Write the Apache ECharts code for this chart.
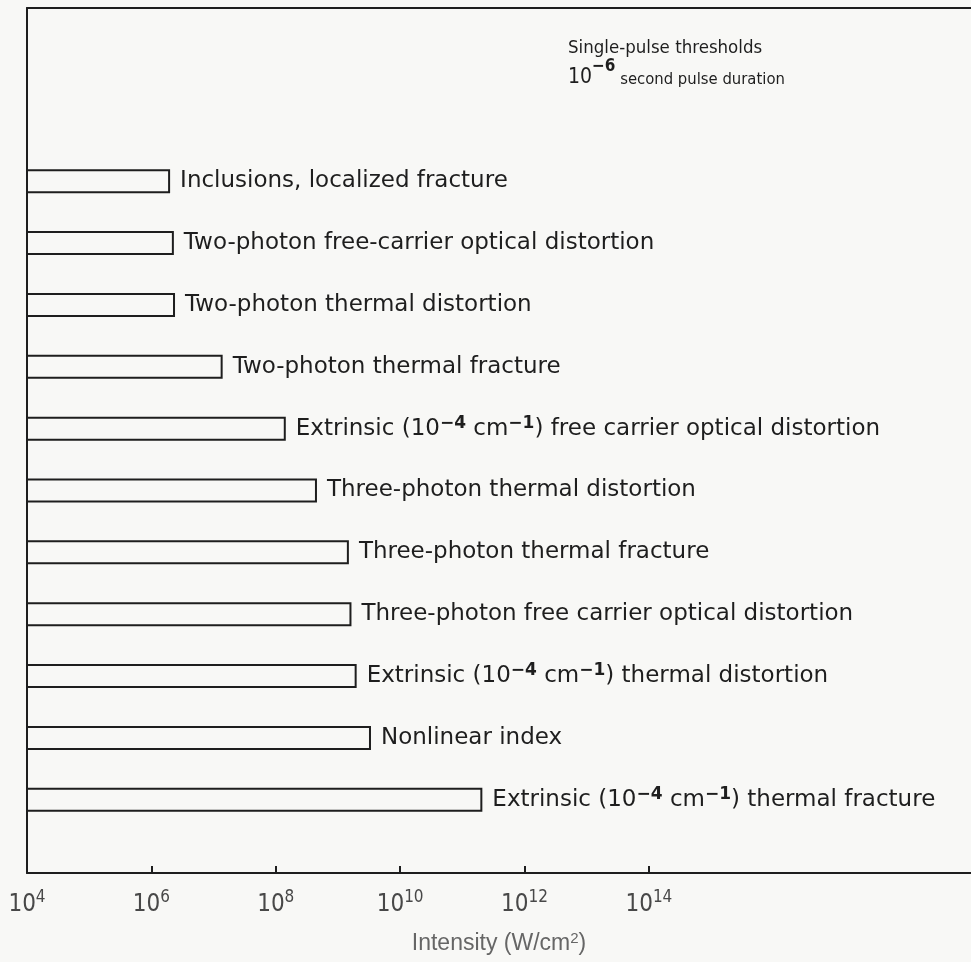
<!DOCTYPE html>
<html>
<head>
<meta charset="utf-8">
<script src="https://cdn.jsdelivr.net/npm/echarts@6/dist/echarts.min.js"></script>
<style>
  html, body { margin: 0; padding: 0; background: #f8f8f6; }
  #chart { width: 971px; height: 962px; }
</style>
</head>
<body>
<div id="chart"></div>
<script>
// Damage mechanisms, top to bottom ({sup|..} marks superscripts)
const categories = [
  'Inclusions, localized fracture',
  'Two-photon free-carrier optical distortion',
  'Two-photon thermal distortion',
  'Two-photon thermal fracture',
  'Extrinsic (10{sup|\u22124} cm{sup|\u22121}) free carrier optical distortion',
  'Three-photon thermal distortion',
  'Three-photon thermal fracture',
  'Three-photon free carrier optical distortion',
  'Extrinsic (10{sup|\u22124} cm{sup|\u22121}) thermal distortion',
  'Nonlinear index',
  'Extrinsic (10{sup|\u22124} cm{sup|\u22121}) thermal fracture'
];

// Threshold intensity for each mechanism, W/cm^2
const thresholds = [
  2.0e6, 2.3e6, 2.4e6, 1.4e7, 1.45e8, 4.6e8,
  1.5e9, 1.65e9, 2.0e9, 3.4e9, 2.1e11
];

// Labelled decades on the intensity axis
const tickExponents = [4, 6, 8, 10, 12, 14];

const titleLines = ['Single-pulse thresholds', 'second pulse duration'];
const pulseExponent = '\u22126';
const axisName = 'Intensity (W/cm{sup|2})';

const BG = '#f8f8f6';
const INK = '#1e1e1e';
const xMin = 1e4;
const xMax = Math.pow(10, 19.18);
const tickValues = tickExponents.map(e => Math.pow(10, e));

const labelFont = '"DejaVu Sans", sans-serif';
const narrowFont = '"Liberation Sans Narrow", "DejaVu Sans Condensed", sans-serif';

const chart = echarts.init(document.getElementById('chart'), null, { renderer: 'canvas' });

const frameLine = { show: true, lineStyle: { color: INK, width: 2 } };

chart.setOption({
  backgroundColor: BG,
  animation: false,
  title: {
    left: 568,
    top: 28,
    padding: 0,
    text: '{a|' + titleLines[0] + '}\n{b|10}{c|' + pulseExponent + '}{d| ' + titleLines[1] + '}',
    textStyle: {
      fontWeight: 'normal',
      rich: {
        a: { fontFamily: narrowFont, fontSize: 18.5, fontWeight: 'normal', color: INK, lineHeight: 30, verticalAlign: 'bottom' },
        b: { fontFamily: narrowFont, fontSize: 21, fontWeight: 'normal', color: INK, lineHeight: 30, verticalAlign: 'bottom' },
        c: { fontFamily: narrowFont, fontSize: 17, fontWeight: 'bold', color: INK, lineHeight: 17, verticalAlign: 'top' },
        d: { fontFamily: narrowFont, fontSize: 16.5, fontWeight: 'normal', color: INK, lineHeight: 30, verticalAlign: 'bottom' }
      }
    }
  },
  grid: [
    // frame: left edge, top edge and the intensity axis
    { left: 27, right: 0, top: 8, bottom: 88 },
    // band holding the bars
    { left: 27, right: 0, top: 150.3, bottom: 131.3 }
  ],
  xAxis: [
    {
      gridIndex: 0,
      type: 'log',
      logBase: 10,
      min: xMin,
      max: xMax,
      axisLine: frameLine,
      splitLine: { show: false },
      minorTick: { show: false },
      axisTick: {
        show: true, inside: true, length: 7,
        customValues: tickValues.slice(1),
        lineStyle: { color: INK, width: 2 }
      },
      axisLabel: {
        show: true,
        margin: 16,
        customValues: tickValues,
        formatter: function (v) {
          const e = Math.round(Math.log10(v));
          return '{b|10}{s|' + e + '}';
        },
        rich: {
          b: { fontFamily: narrowFont, fontSize: 24, color: '#484848', lineHeight: 28, verticalAlign: 'bottom' },
          s: { fontFamily: narrowFont, fontSize: 17, color: '#484848', lineHeight: 17, verticalAlign: 'top' }
        }
      },
      name: axisName,
      nameLocation: 'middle',
      nameGap: 58,
      nameTextStyle: {
        rich: {
          sup: { fontFamily: '"Liberation Sans", sans-serif', fontSize: 15, color: '#666', lineHeight: 15, verticalAlign: 'top' }
        },
        fontFamily: '"Liberation Sans", sans-serif',
        fontSize: 23,
        lineHeight: 26,
        color: '#666'
      }
    },
    {
      // top edge of the frame
      gridIndex: 0,
      type: 'log',
      position: 'top',
      min: xMin,
      max: xMax,
      axisLine: frameLine,
      axisTick: { show: false },
      axisLabel: { show: false },
      splitLine: { show: false }
    },
    {
      gridIndex: 1,
      type: 'log',
      logBase: 10,
      min: xMin,
      max: xMax,
      show: false
    }
  ],
  yAxis: [
    {
      gridIndex: 0, type: 'value', min: 0, max: 1,
      axisLine: frameLine, axisTick: { show: false }, axisLabel: { show: false }, splitLine: { show: false }
    },
    { gridIndex: 1, type: 'category', inverse: true, data: categories, show: false }
  ],
  series: [
    {
      type: 'bar',
      xAxisIndex: 2,
      yAxisIndex: 1,
      data: thresholds,
      barWidth: 24,
      clip: true,
      silent: true,
      itemStyle: { color: BG, borderColor: INK, borderWidth: 2 },
      label: {
        show: true,
        position: 'right',
        distance: 10,
        formatter: function (p) { return categories[p.dataIndex]; },
        fontFamily: labelFont,
        fontSize: 23,
        lineHeight: 28,
        color: INK,
        rich: {
          sup: { fontFamily: labelFont, fontSize: 17, fontWeight: 'bold', color: INK, lineHeight: 17, verticalAlign: 'top' }
        }
      }
    }
  ]
});
</script>
</body>
</html>
